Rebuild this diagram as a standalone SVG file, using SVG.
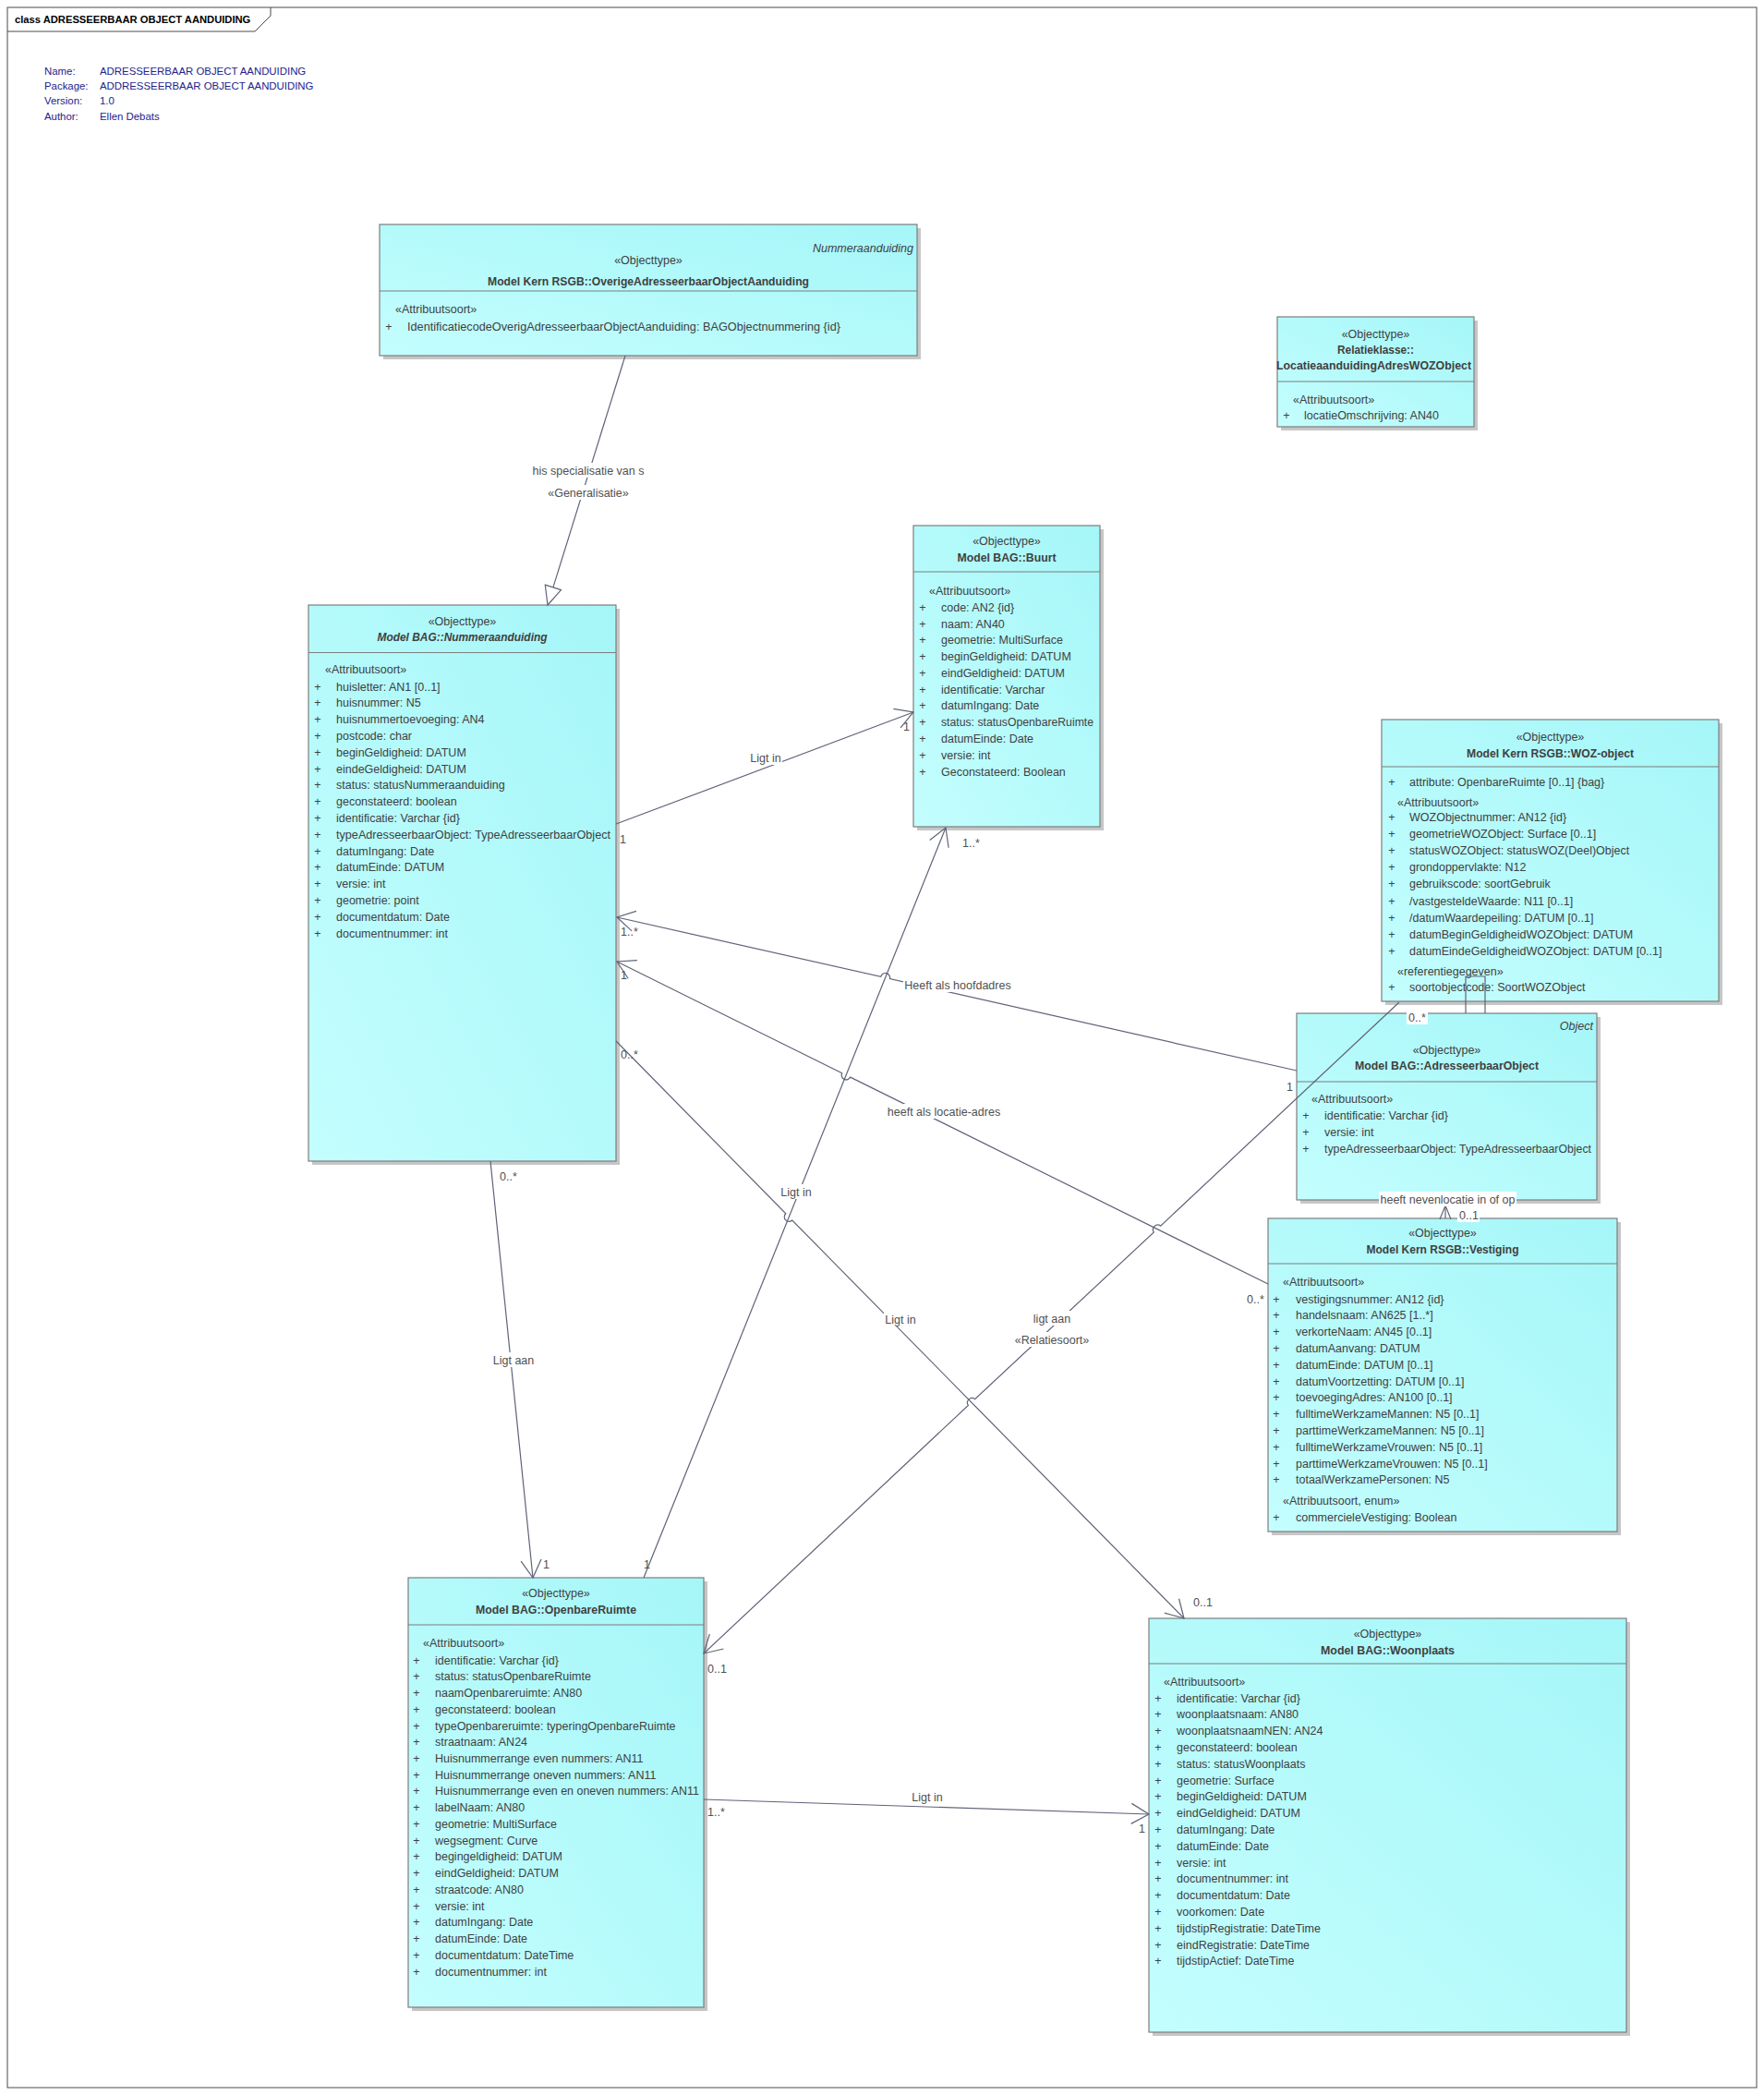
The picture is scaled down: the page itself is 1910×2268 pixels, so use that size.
<svg xmlns="http://www.w3.org/2000/svg" width="1910" height="2268" viewBox="0 0 1910 2268">
<style>
  text { font-family: "Liberation Sans", Arial, sans-serif; font-size: 12.5px; fill: #404040; }
  .ttl { font-weight: bold; font-size: 11.2px; fill: #000; }
  .meta { font-size: 11.4px; fill: #23238a; }
  .st { text-anchor: middle; }
  .nm { text-anchor: middle; font-weight: bold; }
  .ab { text-anchor: middle; font-weight: bold; font-style: italic; }
  .tag { text-anchor: end; font-style: italic; }
  .pl { text-anchor: middle; }
  .lb { fill: #505050; }
  .lbc { fill: #505050; text-anchor: middle; }
  .box { fill: url(#cyan); stroke: #7d7d7d; stroke-width: 1.2; }
  .shd { fill: #c6c6c6; }
  .sep { stroke: #7d7d7d; stroke-width: 1.2; }
  .con { fill: none; stroke: #5f6377; stroke-width: 1.2; }
  .bg { fill: #fff; }
</style>
<defs>
  <linearGradient id="cyan" x1="0" y1="1" x2="1" y2="0">
    <stop offset="0" stop-color="#c4fefe"/>
    <stop offset="1" stop-color="#a5f6f8"/>
  </linearGradient>
  <marker id="open" markerUnits="userSpaceOnUse" markerWidth="24" markerHeight="26" viewBox="-21 -13 24 26" refX="0" refY="0" orient="auto">
    <path d="M-19,-11 L0,0 L-19,11" fill="none" stroke="#5f6377" stroke-width="1.2"/>
  </marker>
</defs>

<rect width="1910" height="2268" fill="#fff"/>

<!-- diagram frame -->
<g id="frame">
  <rect x="8" y="8" width="1894" height="2252" fill="none" stroke="#4a4a4a" stroke-width="1"/>
  <path d="M8,34 H276 L293,17 V8" fill="none" stroke="#4a4a4a" stroke-width="1"/>
  <text class="ttl" x="16" y="25">class ADRESSEERBAAR OBJECT AANDUIDING</text>
</g>

<g id="info">
  <text class="meta" x="48" y="81">Name:</text>
  <text class="meta" x="108" y="81">ADRESSEERBAAR OBJECT AANDUIDING</text>
  <text class="meta" x="48" y="97">Package:</text>
  <text class="meta" x="108" y="97">ADDRESSEERBAAR OBJECT AANDUIDING</text>
  <text class="meta" x="48" y="113">Version:</text>
  <text class="meta" x="108" y="113">1.0</text>
  <text class="meta" x="48" y="130">Author:</text>
  <text class="meta" x="108" y="130">Ellen Debats</text>
</g>

<!-- classes -->
<g id="overigeAdresseerbaarObjectAanduiding">
  <rect class="shd" x="415" y="247" width="582" height="142"/>
  <rect class="box" x="411" y="243" width="582" height="142"/>
  <text class="tag" x="989" y="272.5">Nummeraanduiding</text>
  <text class="st" x="702" y="285.5">«Objecttype»</text>
  <text class="nm" x="702" y="308.5" textLength="348" lengthAdjust="spacingAndGlyphs">Model Kern RSGB::OverigeAdresseerbaarObjectAanduiding</text>
  <line class="sep" x1="411" y1="315" x2="993" y2="315"/>
  <text x="428" y="338.5">«Attribuutsoort»</text>
  <text class="pl" x="421" y="357.5">+</text>
  <text x="441" y="357.5" textLength="469" lengthAdjust="spacingAndGlyphs">IdentificatiecodeOverigAdresseerbaarObjectAanduiding: BAGObjectnummering {id}</text>
</g>

<g id="locatieaanduidingAdresWOZObject">
  <rect class="shd" x="1387" y="347" width="213" height="119"/>
  <rect class="box" x="1383" y="343" width="213" height="119"/>
  <text class="st" x="1489.5" y="365.5">«Objecttype»</text>
  <text class="nm" x="1489.5" y="382.5" textLength="83" lengthAdjust="spacingAndGlyphs">Relatieklasse::</text>
  <text class="nm" x="1487.5" y="399.5" textLength="211" lengthAdjust="spacingAndGlyphs">LocatieaanduidingAdresWOZObject</text>
  <line class="sep" x1="1383" y1="413" x2="1596" y2="413"/>
  <text x="1400" y="436.5">«Attribuutsoort»</text>
  <text class="pl" x="1393" y="453.5">+</text>
  <text x="1412" y="453.5">locatieOmschrijving: AN40</text>
</g>

<g id="buurt">
  <rect class="shd" x="993" y="573" width="202" height="326"/>
  <rect class="box" x="989" y="569" width="202" height="326"/>
  <text class="st" x="1090" y="589.5">«Objecttype»</text>
  <text class="nm" x="1090" y="607.5" textLength="107" lengthAdjust="spacingAndGlyphs">Model BAG::Buurt</text>
  <line class="sep" x1="989" y1="619" x2="1191" y2="619"/>
  <text x="1006" y="643.5">«Attribuutsoort»</text>
  <text class="pl" x="999" y="661.8">+</text><text class="pl" x="999" y="679.6">+</text><text class="pl" x="999" y="697.3">+</text>
  <text class="pl" x="999" y="715.1">+</text><text class="pl" x="999" y="732.9">+</text><text class="pl" x="999" y="750.6">+</text>
  <text class="pl" x="999" y="768.4">+</text><text class="pl" x="999" y="786.2">+</text><text class="pl" x="999" y="804.0">+</text>
  <text class="pl" x="999" y="821.7">+</text><text class="pl" x="999" y="839.5">+</text>
  <text x="1019" y="661.8">code: AN2 {id}</text>
  <text x="1019" y="679.6">naam: AN40</text>
  <text x="1019" y="697.3">geometrie: MultiSurface</text>
  <text x="1019" y="715.1">beginGeldigheid: DATUM</text>
  <text x="1019" y="732.9">eindGeldigheid: DATUM</text>
  <text x="1019" y="750.6">identificatie: Varchar</text>
  <text x="1019" y="768.4">datumIngang: Date</text>
  <text x="1019" y="786.2" textLength="165" lengthAdjust="spacingAndGlyphs">status: statusOpenbareRuimte</text>
  <text x="1019" y="804.0">datumEinde: Date</text>
  <text x="1019" y="821.7">versie: int</text>
  <text x="1019" y="839.5">Geconstateerd: Boolean</text>
</g>

<g id="nummeraanduiding">
  <rect class="shd" x="338" y="659" width="333" height="602"/>
  <rect class="box" x="334" y="655" width="333" height="602"/>
  <text class="st" x="500.5" y="676.5">«Objecttype»</text>
  <text class="ab" x="500.5" y="694" textLength="184" lengthAdjust="spacingAndGlyphs">Model BAG::Nummeraanduiding</text>
  <line class="sep" x1="334" y1="706.5" x2="667" y2="706.5"/>
  <text x="352" y="728.5">«Attribuutsoort»</text>
  <text class="pl" x="344" y="747.5">+</text><text class="pl" x="344" y="765.3">+</text><text class="pl" x="344" y="783.1">+</text>
  <text class="pl" x="344" y="800.9">+</text><text class="pl" x="344" y="818.7">+</text><text class="pl" x="344" y="836.5">+</text>
  <text class="pl" x="344" y="854.3">+</text><text class="pl" x="344" y="872.1">+</text><text class="pl" x="344" y="889.9">+</text>
  <text class="pl" x="344" y="907.7">+</text><text class="pl" x="344" y="925.5">+</text><text class="pl" x="344" y="943.3">+</text>
  <text class="pl" x="344" y="961.1">+</text><text class="pl" x="344" y="978.9">+</text><text class="pl" x="344" y="996.7">+</text>
  <text class="pl" x="344" y="1014.5">+</text>
  <text x="364" y="747.5">huisletter: AN1 [0..1]</text>
  <text x="364" y="765.3">huisnummer: N5</text>
  <text x="364" y="783.1">huisnummertoevoeging: AN4</text>
  <text x="364" y="800.9">postcode: char</text>
  <text x="364" y="818.7">beginGeldigheid: DATUM</text>
  <text x="364" y="836.5">eindeGeldigheid: DATUM</text>
  <text x="364" y="854.3">status: statusNummeraanduiding</text>
  <text x="364" y="872.1">geconstateerd: boolean</text>
  <text x="364" y="889.9">identificatie: Varchar {id}</text>
  <text x="364" y="907.7" textLength="297" lengthAdjust="spacingAndGlyphs">typeAdresseerbaarObject: TypeAdresseerbaarObject</text>
  <text x="364" y="925.5">datumIngang: Date</text>
  <text x="364" y="943.3">datumEinde: DATUM</text>
  <text x="364" y="961.1">versie: int</text>
  <text x="364" y="978.9">geometrie: point</text>
  <text x="364" y="996.7">documentdatum: Date</text>
  <text x="364" y="1014.5">documentnummer: int</text>
</g>

<g id="wozObject">
  <rect class="shd" x="1500" y="783" width="365" height="305"/>
  <rect class="box" x="1496" y="779" width="365" height="305"/>
  <text class="st" x="1678.5" y="801.5">«Objecttype»</text>
  <text class="nm" x="1678.5" y="819.5" textLength="181" lengthAdjust="spacingAndGlyphs">Model Kern RSGB::WOZ-object</text>
  <line class="sep" x1="1496" y1="830" x2="1861" y2="830"/>
  <text class="pl" x="1507" y="850.5">+</text>
  <text x="1526" y="850.5">attribute: OpenbareRuimte [0..1] {bag}</text>
  <text x="1513" y="872.5">«Attribuutsoort»</text>
  <text class="pl" x="1507" y="888.5">+</text><text class="pl" x="1507" y="906.8">+</text><text class="pl" x="1507" y="925.2">+</text>
  <text class="pl" x="1507" y="942.8">+</text><text class="pl" x="1507" y="961.2">+</text><text class="pl" x="1507" y="979.5">+</text>
  <text class="pl" x="1507" y="997.5">+</text><text class="pl" x="1507" y="1015.5">+</text><text class="pl" x="1507" y="1033.5">+</text>
  <text x="1526" y="888.5">WOZObjectnummer: AN12 {id}</text>
  <text x="1526" y="906.8">geometrieWOZObject: Surface [0..1]</text>
  <text x="1526" y="925.2">statusWOZObject: statusWOZ(Deel)Object</text>
  <text x="1526" y="942.8">grondoppervlakte: N12</text>
  <text x="1526" y="961.2">gebruikscode: soortGebruik</text>
  <text x="1526" y="979.5">/vastgesteldeWaarde: N11 [0..1]</text>
  <text x="1526" y="997.5">/datumWaardepeiling: DATUM [0..1]</text>
  <text x="1526" y="1015.5">datumBeginGeldigheidWOZObject: DATUM</text>
  <text x="1526" y="1033.5">datumEindeGeldigheidWOZObject: DATUM [0..1]</text>
  <text x="1513" y="1055.5">«referentiegegeven»</text>
  <text class="pl" x="1507" y="1072.5">+</text>
  <text x="1526" y="1072.5">soortobjectcode: SoortWOZObject</text>
</g>

<g id="adresseerbaarObject">
  <rect class="shd" x="1408" y="1101" width="325" height="202"/>
  <rect class="box" x="1404" y="1097" width="325" height="202"/>
  <text class="tag" x="1725" y="1114.5">Object</text>
  <text class="st" x="1566.5" y="1140.5">«Objecttype»</text>
  <text class="nm" x="1566.5" y="1157.5" textLength="199" lengthAdjust="spacingAndGlyphs">Model BAG::AdresseerbaarObject</text>
  <line class="sep" x1="1404" y1="1171" x2="1729" y2="1171"/>
  <text x="1420" y="1193.5">«Attribuutsoort»</text>
  <text class="pl" x="1414" y="1211.5">+</text><text class="pl" x="1414" y="1229.5">+</text><text class="pl" x="1414" y="1247.5">+</text>
  <text x="1434" y="1211.5">identificatie: Varchar {id}</text>
  <text x="1434" y="1229.5">versie: int</text>
  <text x="1434" y="1247.5" textLength="289" lengthAdjust="spacingAndGlyphs">typeAdresseerbaarObject: TypeAdresseerbaarObject</text>
</g>

<g id="vestiging">
  <rect class="shd" x="1377" y="1323" width="378" height="339"/>
  <rect class="box" x="1373" y="1319" width="378" height="339"/>
  <text class="st" x="1562" y="1338.5">«Objecttype»</text>
  <text class="nm" x="1562" y="1356.5" textLength="165" lengthAdjust="spacingAndGlyphs">Model Kern RSGB::Vestiging</text>
  <line class="sep" x1="1373" y1="1368" x2="1751" y2="1368"/>
  <text x="1389" y="1391.5">«Attribuutsoort»</text>
  <text class="pl" x="1382" y="1410.5">+</text><text class="pl" x="1382" y="1428.3">+</text><text class="pl" x="1382" y="1446.1">+</text>
  <text class="pl" x="1382" y="1463.9">+</text><text class="pl" x="1382" y="1481.7">+</text><text class="pl" x="1382" y="1499.5">+</text>
  <text class="pl" x="1382" y="1517.3">+</text><text class="pl" x="1382" y="1535.1">+</text><text class="pl" x="1382" y="1552.9">+</text>
  <text class="pl" x="1382" y="1570.7">+</text><text class="pl" x="1382" y="1588.5">+</text><text class="pl" x="1382" y="1606.3">+</text>
  <text x="1403" y="1410.5">vestigingsnummer: AN12 {id}</text>
  <text x="1403" y="1428.3">handelsnaam: AN625 [1..*]</text>
  <text x="1403" y="1446.1">verkorteNaam: AN45 [0..1]</text>
  <text x="1403" y="1463.9">datumAanvang: DATUM</text>
  <text x="1403" y="1481.7">datumEinde: DATUM [0..1]</text>
  <text x="1403" y="1499.5">datumVoortzetting: DATUM [0..1]</text>
  <text x="1403" y="1517.3">toevoegingAdres: AN100 [0..1]</text>
  <text x="1403" y="1535.1">fulltimeWerkzameMannen: N5 [0..1]</text>
  <text x="1403" y="1552.9">parttimeWerkzameMannen: N5 [0..1]</text>
  <text x="1403" y="1570.7">fulltimeWerkzameVrouwen: N5 [0..1]</text>
  <text x="1403" y="1588.5">parttimeWerkzameVrouwen: N5 [0..1]</text>
  <text x="1403" y="1606.3">totaalWerkzamePersonen: N5</text>
  <text x="1389" y="1628.5">«Attribuutsoort, enum»</text>
  <text class="pl" x="1382" y="1646.5">+</text>
  <text x="1403" y="1646.5">commercieleVestiging: Boolean</text>
</g>

<g id="openbareRuimte">
  <rect class="shd" x="446" y="1712" width="320" height="465"/>
  <rect class="box" x="442" y="1708" width="320" height="465"/>
  <text class="st" x="602" y="1728.5">«Objecttype»</text>
  <text class="nm" x="602" y="1746.5" textLength="174" lengthAdjust="spacingAndGlyphs">Model BAG::OpenbareRuimte</text>
  <line class="sep" x1="442" y1="1759" x2="762" y2="1759"/>
  <text x="458" y="1782.5">«Attribuutsoort»</text>
  <text class="pl" x="451" y="1801.5">+</text><text class="pl" x="451" y="1819.2">+</text><text class="pl" x="451" y="1837.0">+</text>
  <text class="pl" x="451" y="1854.7">+</text><text class="pl" x="451" y="1872.5">+</text><text class="pl" x="451" y="1890.2">+</text>
  <text class="pl" x="451" y="1907.9">+</text><text class="pl" x="451" y="1925.7">+</text><text class="pl" x="451" y="1943.4">+</text>
  <text class="pl" x="451" y="1961.2">+</text><text class="pl" x="451" y="1978.9">+</text><text class="pl" x="451" y="1996.6">+</text>
  <text class="pl" x="451" y="2014.4">+</text><text class="pl" x="451" y="2032.1">+</text><text class="pl" x="451" y="2049.9">+</text>
  <text class="pl" x="451" y="2067.6">+</text><text class="pl" x="451" y="2085.3">+</text><text class="pl" x="451" y="2103.1">+</text>
  <text class="pl" x="451" y="2120.8">+</text><text class="pl" x="451" y="2138.6">+</text>
  <text x="471" y="1801.5">identificatie: Varchar {id}</text>
  <text x="471" y="1819.2">status: statusOpenbareRuimte</text>
  <text x="471" y="1837.0">naamOpenbareruimte: AN80</text>
  <text x="471" y="1854.7">geconstateerd: boolean</text>
  <text x="471" y="1872.5">typeOpenbareruimte: typeringOpenbareRuimte</text>
  <text x="471" y="1890.2">straatnaam: AN24</text>
  <text x="471" y="1907.9">Huisnummerrange even nummers: AN11</text>
  <text x="471" y="1925.7">Huisnummerrange oneven nummers: AN11</text>
  <text x="471" y="1943.4" textLength="286" lengthAdjust="spacingAndGlyphs">Huisnummerrange even en oneven nummers: AN11</text>
  <text x="471" y="1961.2">labelNaam: AN80</text>
  <text x="471" y="1978.9">geometrie: MultiSurface</text>
  <text x="471" y="1996.6">wegsegment: Curve</text>
  <text x="471" y="2014.4">begingeldigheid: DATUM</text>
  <text x="471" y="2032.1">eindGeldigheid: DATUM</text>
  <text x="471" y="2049.9">straatcode: AN80</text>
  <text x="471" y="2067.6">versie: int</text>
  <text x="471" y="2085.3">datumIngang: Date</text>
  <text x="471" y="2103.1">datumEinde: Date</text>
  <text x="471" y="2120.8">documentdatum: DateTime</text>
  <text x="471" y="2138.6">documentnummer: int</text>
</g>

<g id="woonplaats">
  <rect class="shd" x="1248" y="1756" width="517" height="448"/>
  <rect class="box" x="1244" y="1752" width="517" height="448"/>
  <text class="st" x="1502.5" y="1772.5">«Objecttype»</text>
  <text class="nm" x="1502.5" y="1790.5" textLength="145" lengthAdjust="spacingAndGlyphs">Model BAG::Woonplaats</text>
  <line class="sep" x1="1244" y1="1801" x2="1761" y2="1801"/>
  <text x="1260" y="1824.5">«Attribuutsoort»</text>
  <text class="pl" x="1254" y="1842.5">+</text><text class="pl" x="1254" y="1860.3">+</text><text class="pl" x="1254" y="1878.1">+</text>
  <text class="pl" x="1254" y="1895.9">+</text><text class="pl" x="1254" y="1913.7">+</text><text class="pl" x="1254" y="1931.5">+</text>
  <text class="pl" x="1254" y="1949.3">+</text><text class="pl" x="1254" y="1967.1">+</text><text class="pl" x="1254" y="1984.9">+</text>
  <text class="pl" x="1254" y="2002.7">+</text><text class="pl" x="1254" y="2020.5">+</text><text class="pl" x="1254" y="2038.3">+</text>
  <text class="pl" x="1254" y="2056.1">+</text><text class="pl" x="1254" y="2073.9">+</text><text class="pl" x="1254" y="2091.7">+</text>
  <text class="pl" x="1254" y="2109.5">+</text><text class="pl" x="1254" y="2127.3">+</text>
  <text x="1274" y="1842.5">identificatie: Varchar {id}</text>
  <text x="1274" y="1860.3">woonplaatsnaam: AN80</text>
  <text x="1274" y="1878.1">woonplaatsnaamNEN: AN24</text>
  <text x="1274" y="1895.9">geconstateerd: boolean</text>
  <text x="1274" y="1913.7">status: statusWoonplaats</text>
  <text x="1274" y="1931.5">geometrie: Surface</text>
  <text x="1274" y="1949.3">beginGeldigheid: DATUM</text>
  <text x="1274" y="1967.1">eindGeldigheid: DATUM</text>
  <text x="1274" y="1984.9">datumIngang: Date</text>
  <text x="1274" y="2002.7">datumEinde: Date</text>
  <text x="1274" y="2020.5">versie: int</text>
  <text x="1274" y="2038.3">documentnummer: int</text>
  <text x="1274" y="2056.1">documentdatum: Date</text>
  <text x="1274" y="2073.9">voorkomen: Date</text>
  <text x="1274" y="2091.7">tijdstipRegistratie: DateTime</text>
  <text x="1274" y="2109.5">eindRegistratie: DateTime</text>
  <text x="1274" y="2127.3">tijdstipActief: DateTime</text>
</g>

<!-- connectors, drawn over the classes -->
<g id="connectors">
  <!-- generalisation: Overige -> Nummeraanduiding -->
  <path class="con" d="M677,385 L598.9,635.9"/>
  <polygon points="593,655 607.5,638.6 590.3,633.2" fill="#fff" stroke="#5f6377" stroke-width="1.2"/>
  <!-- Ligt in: Nummeraanduiding -> Buurt -->
  <path class="con" d="M667,892 L989,771" marker-end="url(#open)"/>
  <!-- Heeft als hoofdadres -->
  <path class="con" d="M1404,1159 L963.5,1059.6 A5,5 0 0 0 953.7,1057.4 L668,993" marker-end="url(#open)" stroke-width="1.6"/>
  <!-- heeft als locatie-adres -->
  <path class="con" d="M1373,1390 L920.7,1166.1 A5,5 0 0 1 911.7,1161.7 L668,1041" marker-end="url(#open)"/>
  <!-- Ligt in: OpenbareRuimte -> Buurt -->
  <path class="con" d="M697,1708 L1024,896" marker-end="url(#open)"/>
  <!-- Ligt in: Nummeraanduiding -> Woonplaats -->
  <path class="con" d="M667,1127 L850.8,1313.8 A5,5 0 0 0 857.8,1321 L1282,1752" marker-end="url(#open)"/>
  <!-- Ligt aan: Nummeraanduiding -> OpenbareRuimte -->
  <path class="con" d="M531,1257 L577,1708" marker-end="url(#open)"/>
  <!-- ligt aan «Relatiesoort»: WOZ-object -> OpenbareRuimte -->
  <path class="con" d="M1515,1085 L1256.6,1327.2 A5,5 0 0 0 1249.4,1334 L1055.6,1514.6 A5,5 0 0 0 1048.4,1521.4 L762,1790" marker-end="url(#open)"/>
  <!-- Ligt in: OpenbareRuimte -> Woonplaats -->
  <path class="con" d="M762,1948 L1244,1964" marker-end="url(#open)"/>
  <!-- heeft nevenlocatie in of op -->
  <path class="con" d="M1565,1319 V1299"/>
  <path class="con" d="M1559,1320 L1565,1305 L1571,1320"/>
  <!-- link between AdresseerbaarObject and WOZ-object -->
  <path class="con" d="M1587,1097 V1057 H1608 V1097"/>
</g>

<!-- connector labels -->
<g id="labels">
  <rect class="bg" x="575" y="501" width="124" height="16"/>
  <text class="lbc" x="637" y="513.5">his specialisatie van s</text>
  <rect class="bg" x="592" y="525" width="90" height="16"/>
  <text class="lbc" x="637" y="537.5">«Generalisatie»</text>

  <rect class="bg" x="811" y="812" width="36" height="16"/>
  <text class="lbc" x="829" y="824.5">Ligt in</text>
  <text class="lb" x="671" y="912.5">1</text>
  <text class="lb" x="978" y="790.5">1</text>

  <rect class="bg" x="978" y="1058" width="118" height="16"/>
  <text class="lbc" x="1037" y="1070.5">Heeft als hoofdadres</text>
  <text class="lb" x="672" y="1012.5">1..*</text>
  <text class="lb" x="1393" y="1180.5">1</text>

  <rect class="bg" x="960" y="1195" width="124" height="16"/>
  <text class="lbc" x="1022" y="1207.5">heeft als locatie-adres</text>
  <text class="lb" x="672" y="1059.5">1</text>
  <text class="lb" x="1350" y="1410.5">0..*</text>

  <rect class="bg" x="844" y="1282" width="36" height="16"/>
  <text class="lbc" x="862" y="1294.5">Ligt in</text>
  <text class="lb" x="697" y="1697.5">1</text>
  <text class="lb" x="1042" y="916.5">1..*</text>

  <rect class="bg" x="957" y="1420" width="36" height="16"/>
  <text class="lbc" x="975" y="1432.5">Ligt in</text>
  <text class="lb" x="672" y="1145.5">0..*</text>
  <text class="lb" x="1292" y="1738.5">0..1</text>

  <rect class="bg" x="533" y="1464" width="46" height="16"/>
  <text class="lbc" x="556" y="1476.5">Ligt aan</text>
  <text class="lb" x="541" y="1277.5">0..*</text>
  <text class="lb" x="588" y="1697.5">1</text>

  <rect class="bg" x="1118" y="1419" width="42" height="16"/>
  <text class="lbc" x="1139" y="1431.5">ligt aan</text>
  <rect class="bg" x="1097" y="1442" width="84" height="16"/>
  <text class="lbc" x="1139" y="1454.5">«Relatiesoort»</text>
  <rect class="bg" x="1523" y="1093" width="23" height="16"/>
  <text class="lb" x="1525" y="1105.5">0..*</text>
  <text class="lb" x="766" y="1810.5">0..1</text>

  <rect class="bg" x="986" y="1937" width="36" height="16"/>
  <text class="lbc" x="1004" y="1949.5">Ligt in</text>
  <text class="lb" x="766" y="1965.5">1..*</text>
  <text class="lb" x="1233" y="1983.5">1</text>

  <rect class="bg" x="1493" y="1290" width="149" height="16"/>
  <text class="lbc" x="1567.5" y="1302.5">heeft nevenlocatie in of op</text>
  <rect class="bg" x="1578" y="1307" width="24" height="16"/>
  <text class="lb" x="1580" y="1319.5">0..1</text>
</g>
</svg>
